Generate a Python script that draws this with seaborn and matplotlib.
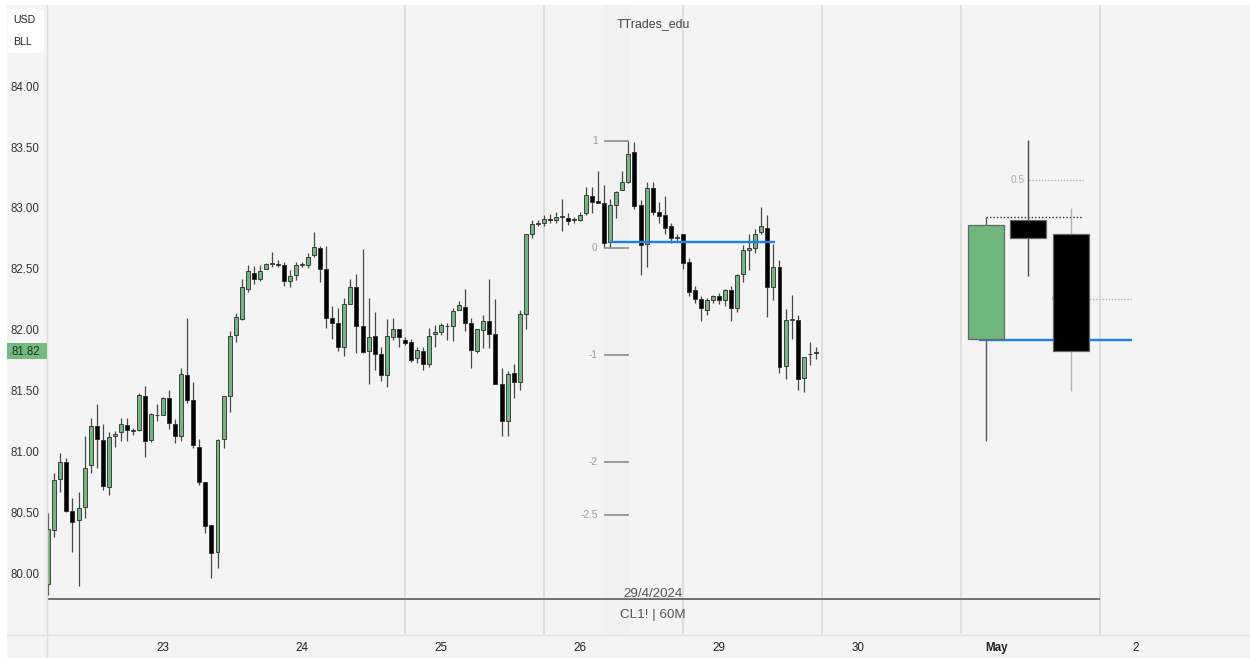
import matplotlib
matplotlib.use("Agg")
import matplotlib.pyplot as plt
from matplotlib.patches import Rectangle, FancyBboxPatch
from matplotlib.lines import Line2D
import numpy as np
import pandas as pd
import seaborn as sns

# ---- CL1! 60-minute bars ----
opens = [79.92, 80.36, 80.78, 80.92, 80.52, 80.44, 80.55, 80.89, 81.21, 81.10,
         80.71, 81.13, 81.16, 81.22, 81.175, 81.18, 81.46, 81.10, 81.30, 81.30,
         81.44, 81.23, 81.13, 81.63, 81.43, 81.04, 80.75, 80.40, 80.18, 81.11,
         81.46, 81.96, 82.09, 82.34, 82.47, 82.415, 82.50, 82.54, 82.54, 82.53,
         82.40, 82.45, 82.535, 82.53, 82.615, 82.675, 82.50, 82.10, 82.055, 81.86,
         82.21, 82.35, 82.035, 81.83, 81.95, 81.80, 81.63, 81.945, 82.01, 81.92,
         81.90, 81.77, 81.83, 81.72, 81.97, 81.98, 82.03, 82.03, 82.165, 82.19,
         82.06, 81.83, 82.00, 82.075, 81.97, 81.555, 81.25, 81.65, 81.575, 82.135,
         82.79, 82.87, 82.875, 82.91, 82.90, 82.93, 82.92, 82.905, 82.905, 82.955,
         83.10, 83.055, 83.045, 82.725, 83.025, 83.15, 83.21, 83.455, 83.025, 82.705,
         83.16, 82.97, 82.94, 82.85, 82.755, 82.785, 82.555, 82.33, 82.25, 82.165,
         82.245, 82.28, 82.245, 82.33, 82.18, 82.46, 82.655, 82.67, 82.80, 82.84,
         82.35, 82.52, 81.705, 82.085, 82.08, 81.605, 81.80, 81.815]
highs = [80.50, 80.83, 80.99, 80.95, 80.62, 80.67, 81.13, 81.28, 81.39, 81.23,
         81.16, 81.17, 81.28, 81.28, 81.20, 81.48, 81.54, 81.32, 81.39, 81.45,
         81.51, 81.27, 81.69, 82.10, 81.57, 81.11, 80.75, 80.40, 81.11, 81.46,
         81.99, 82.14, 82.42, 82.53, 82.525, 82.53, 82.55, 82.64, 82.57, 82.56,
         82.49, 82.56, 82.56, 82.63, 82.80, 82.69, 82.69, 82.20, 82.18, 82.26,
         82.415, 82.46, 82.66, 82.26, 82.145, 81.86, 82.09, 82.10, 82.01, 81.94,
         81.93, 81.86, 81.86, 82.02, 82.04, 82.06, 82.06, 82.18, 82.24, 82.34,
         82.095, 82.01, 82.12, 82.42, 82.25, 81.69, 81.66, 81.72, 82.16, 82.79,
         82.90, 82.90, 82.94, 82.95, 82.97, 83.07, 82.96, 82.93, 82.97, 83.175,
         83.175, 83.30, 83.19, 83.07, 83.14, 83.30, 83.55, 83.545, 83.065, 83.21,
         83.21, 83.05, 83.095, 82.88, 82.79, 82.79, 82.59, 82.36, 82.28, 82.26,
         82.29, 82.30, 82.34, 82.36, 82.46, 82.70, 82.79, 82.83, 83.005, 82.945,
         82.705, 82.575, 82.17, 82.29, 82.125, 81.78, 81.90, 81.86]
lows = [79.83, 80.30, 80.67, 80.51, 80.18, 79.90, 80.46, 80.83, 80.87, 80.69,
        80.65, 81.04, 81.09, 81.09, 81.14, 81.175, 80.96, 81.08, 81.25, 81.30,
        81.19, 81.07, 81.09, 81.40, 81.03, 80.73, 80.34, 79.97, 80.05, 81.03,
        81.33, 81.90, 82.08, 82.31, 82.38, 82.40, 82.50, 82.52, 82.52, 82.36,
        82.35, 82.41, 82.52, 82.51, 82.60, 82.39, 82.02, 81.93, 81.83, 81.79,
        82.21, 81.81, 81.815, 81.56, 81.67, 81.58, 81.535, 81.92, 81.86, 81.88,
        81.74, 81.73, 81.67, 81.70, 81.86, 81.96, 81.92, 81.91, 82.16, 81.99,
        81.69, 81.81, 81.85, 81.85, 81.56, 81.13, 81.13, 81.44, 81.51, 82.01,
        82.75, 82.85, 82.85, 82.88, 82.88, 82.81, 82.86, 82.88, 82.895, 82.945,
        82.96, 83.04, 82.675, 82.67, 82.915, 83.145, 83.205, 82.995, 82.45, 82.52,
        82.94, 82.875, 82.79, 82.71, 82.73, 82.50, 82.28, 82.22, 82.07, 82.12,
        82.22, 82.21, 82.20, 82.07, 82.15, 82.39, 82.49, 82.63, 82.79, 82.11,
        82.245, 81.65, 81.595, 81.93, 81.51, 81.495, 81.71, 81.765]
closes = [80.37, 80.77, 80.92, 80.52, 80.43, 80.54, 80.87, 81.21, 81.11, 80.72,
          81.12, 81.15, 81.23, 81.18, 81.18, 81.47, 81.09, 81.31, 81.305, 81.44,
          81.24, 81.13, 81.64, 81.43, 81.06, 80.75, 80.39, 80.17, 81.10, 81.46,
          81.95, 82.11, 82.35, 82.48, 82.415, 82.485, 82.54, 82.54, 82.535, 82.40,
          82.44, 82.53, 82.54, 82.60, 82.68, 82.50, 82.10, 82.055, 81.86, 82.21,
          82.35, 82.03, 81.82, 81.94, 81.80, 81.63, 81.95, 82.005, 81.94, 81.89,
          81.755, 81.84, 81.72, 81.95, 81.98, 82.04, 82.035, 82.155, 82.205, 82.06,
          81.835, 82.005, 82.075, 81.965, 81.56, 81.25, 81.64, 81.575, 82.13, 82.785,
          82.87, 82.875, 82.91, 82.90, 82.93, 82.935, 82.895, 82.91, 82.94, 83.11,
          83.05, 83.045, 82.715, 83.025, 83.135, 83.215, 83.445, 83.02, 82.70, 83.16,
          82.97, 82.935, 82.84, 82.75, 82.76, 82.55, 82.31, 82.25, 82.18, 82.245,
          82.28, 82.245, 82.33, 82.18, 82.45, 82.655, 82.67, 82.79, 82.85, 82.35,
          82.52, 81.695, 82.08, 82.09, 81.595, 81.78, 81.80, 81.82]

# ---- higher-timeframe candles projected on the right ----
htf_pos = [155.2, 162.2, 169.2]
htf_open = [81.93, 82.902, 82.784]
htf_high = [82.926, 83.557, 83.00]
htf_low = [81.09, 82.445, 81.50]
htf_close = [82.859, 82.754, 81.828]
htf_wick_colors = ["#5a5a5a", "#4a4a4a", "#b4b4b4"]

# ---- axis labels ----
day_ticks = [19, 42, 65, 88, 111, 134, 157, 180]
day_labels = ["23", "24", "25", "26", "29", "30", "May", "2"]
session_lines = [59, 82, 105, 128, 151, 174]
price_ticks = [80.0, 80.5, 81.0, 81.5, 82.0, 82.5, 83.0, 83.5, 84.0]
last_price = 81.82

# ---- fib projection of the swing ----
fib_levels = [1, 0, -1, -2, -2.5]
fib_labels = ["1", "0", "-1", "-2", "-2.5"]
fib_high = 83.549
fib_low = 82.672

W, H = 1250, 658
GREEN = "#6fb77c"
BLUE = "#1a7ff2"


def fx(px):
    return px / W


def fy(py):
    return 1 - py / H


sns.set_theme(style="white")
plt.rcParams["font.family"] = ["Liberation Sans", "DejaVu Sans"]

fig = plt.figure(figsize=(W / 100, H / 100), dpi=100, facecolor="white")

# chart panel background
fig.add_artist(Rectangle((fx(7), 0), fx(W) - fx(7), fy(5), transform=fig.transFigure,
                         facecolor="#f4f4f4", edgecolor="none", zorder=0))

ax = fig.add_axes([fx(47), fy(634), fx(W) - fx(47), fy(5) - fy(634)])
ax.set_facecolor("#f4f4f4")
for s in ax.spines.values():
    s.set_visible(False)
ax.set_xlim(-0.215, 198.86)
ax.set_ylim(79.508, 84.664)

df = pd.DataFrame({"o": opens, "h": highs, "l": lows, "c": closes})
df["i"] = np.arange(len(df))
df["up"] = df["c"] >= df["o"]

# session separators
ax.vlines(session_lines, 79.508, 84.664, color="#d7d7d7", lw=1.1, zorder=0)

# fib band
ax.axvspan(91.96, 96.3, color="#f1f1f1", zorder=0.5, lw=0)

# candles
ax.vlines(df["i"], df["l"], df["h"], color="#474747", lw=0.9, zorder=2)
body_h = np.maximum((df["c"] - df["o"]).abs(), 0.006)
ax.bar(df["i"], body_h, bottom=np.minimum(df["o"], df["c"]), width=0.66,
       color=np.where(df["up"], GREEN, "#000000"), edgecolor="#2a2a2a",
       linewidth=0.6, zorder=3)

# fib levels
rng = fib_high - fib_low
for lv, lab in zip(fib_levels, fib_labels):
    p = fib_low + lv * rng
    ax.hlines(p, 92.0, 96.1, color="#8c8c8c", lw=1.2, zorder=2.5)
    ax.text(90.9, p, lab, ha="right", va="center", fontsize=7.3, color="#9a9a9a")

# blue reference lines
ax.hlines(82.724, 93.0, 120.3, color=BLUE, lw=1.7, zorder=4)
ax.hlines(81.914, 154.0, 179.3, color=BLUE, lw=1.7, zorder=2.5)

# date baseline
ax.hlines(79.795, -0.215, 174.0, color="#5a5a5a", lw=1.2, zorder=1)

# higher-timeframe candles
ax.hlines(htf_high[0], htf_pos[0], 171.2, color="#333333", lw=1.0,
          linestyles=(0, (1, 1.5)), zorder=1.5)
ax.hlines(83.23, 162.3, 171.2, color="#aaaaaa", lw=0.9,
          linestyles=(0, (1, 1.5)), zorder=1.5)
ax.text(161.6, 83.23, "0.5", ha="right", va="center", fontsize=7.3, color="#aaaaaa")
ax.hlines(82.254, 166.1, 179.2, color="#aaaaaa", lw=0.9,
          linestyles=(0, (1, 1.5)), zorder=1.5)
ax.text(166.9, 82.254, "0", ha="right", va="center", fontsize=7.3, color="#aaaaaa",
        zorder=1.5)
for k in range(3):
    ax.vlines(htf_pos[k], htf_low[k], htf_high[k], color=htf_wick_colors[k], lw=1.0, zorder=2)
htf_up = [c >= o for o, c in zip(htf_open, htf_close)]
ax.bar(htf_pos, [abs(c - o) for o, c in zip(htf_open, htf_close)],
       bottom=[min(o, c) for o, c in zip(htf_open, htf_close)], width=5.96,
       color=[GREEN if u else "#000000" for u in htf_up], edgecolor="#666666",
       linewidth=0.9, zorder=3)

# axes ticks
ax.set_yticks(price_ticks)
ax.set_yticklabels([f"{p:.2f}" for p in price_ticks])
ax.tick_params(axis="y", length=0, pad=5.2, labelsize=8.3, labelcolor="#333333")
ax.set_xticks(day_ticks)
ax.set_xticklabels(day_labels)
ax.tick_params(axis="x", length=0, pad=5.8, labelsize=8.4, labelcolor="#222222")
for t in ax.get_xticklabels():
    if t.get_text() == "May":
        t.set_fontweight("bold")
ax.grid(False)

# panel separators
fig.add_artist(Line2D([fx(47), fx(47)], [fy(5), 0], color="#dedede", lw=1.0, zorder=5))
fig.add_artist(Line2D([fx(7), 1], [fy(634.5), fy(634.5)], color="#e0e0e0", lw=1.0, zorder=5))

# last price tag
fig.add_artist(Rectangle((fx(7), fy(359)), fx(47) - fx(7), fy(343) - fy(359),
                         transform=fig.transFigure, facecolor="#74bb80",
                         edgecolor="none", zorder=6))
fig.text(fx(40.5), fy(351.5), f"{last_price:.2f}", ha="right", va="center",
         fontsize=8.3, color="#1f3322", zorder=7)

# currency / unit box
fig.add_artist(FancyBboxPatch((fx(8), fy(53)), fx(44) - fx(8), fy(9) - fy(53),
                              boxstyle="round,pad=0,rounding_size=0.004",
                              transform=fig.transFigure, facecolor="white",
                              edgecolor="none", zorder=6))
fig.text(fx(24), fy(20), "USD", ha="center", va="center", fontsize=7.6,
         color="#222222", zorder=7)
fig.text(fx(22.5), fy(42), "BLL", ha="center", va="center", fontsize=7.6,
         color="#222222", zorder=7)

# chart captions
fig.text(fx(653), fy(24), "TTrades_edu", ha="center", va="center", fontsize=8.9,
         color="#444444", zorder=7)
fig.text(fx(653), fy(594), "29/4/2024", ha="center", va="center", fontsize=9.6,
         color="#555555", zorder=7)
fig.text(fx(653), fy(615), "CL1! | 60M", ha="center", va="center", fontsize=9.6,
         color="#555555", zorder=7)

fig.savefig("out.png", dpi=100, facecolor="white")
